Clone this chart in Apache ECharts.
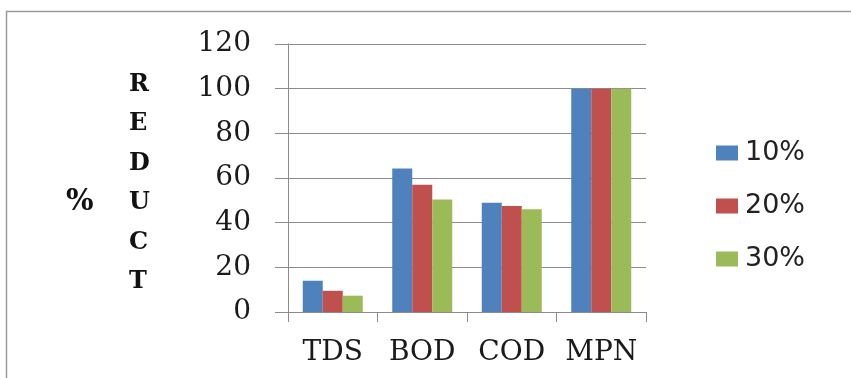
<!DOCTYPE html>
<html>
<head>
<meta charset="utf-8">
<script src="https://cdn.jsdelivr.net/npm/echarts@6/dist/echarts.min.js"></script>
<style>
  html, body { margin: 0; padding: 0; background: #fff; }
  #chart { width: 851px; height: 378px; }
</style>
</head>
<body>
<div id="chart"></div>
<script>
// Parameters measured and their percentage reduction at each dose
const categories = ['TDS', 'BOD', 'COD', 'MPN'];
const seriesNames = ['10%', '20%', '30%'];
const reduction10 = [14, 64.2, 48.9, 100];
const reduction20 = [9.5, 57, 47.5, 100];
const reduction30 = [7.3, 50.4, 46, 100];
const yTicks = [0, 20, 40, 60, 80, 100, 120];

const colors = ['#4F81BD', '#C0504D', '#9BBB59'];
const axisGray = '#8C8C8C';

const chart = echarts.init(document.getElementById('chart'), null, { renderer: 'canvas' });

const values = [reduction10, reduction20, reduction30];

chart.setOption({
  animation: false,
  backgroundColor: '#ffffff',
  color: colors,
  grid: { left: 288, right: 205, top: 44, bottom: 66, containLabel: false },
  legend: {
    orient: 'vertical',
    left: 711,
    top: 134,
    itemWidth: 22,
    itemHeight: 15,
    itemGap: 25,
    icon: 'rect',
    data: seriesNames,
    textStyle: { fontFamily: 'DejaVu Sans', fontSize: 27, color: '#222', lineHeight: 28, padding: [0, 0, 0, 2] }
  },
  xAxis: {
    type: 'category',
    data: categories,
    axisLine: { show: true, lineStyle: { color: axisGray, width: 1 } },
    axisTick: { show: true, interval: 0, length: 10, lineStyle: { color: axisGray } },
    axisLabel: { interval: 0, margin: 27, fontFamily: 'DejaVu Serif', fontSize: 28, color: '#1a1a1a' },
    splitLine: { show: false }
  },
  yAxis: {
    type: 'value',
    min: yTicks[0],
    max: yTicks[yTicks.length - 1],
    interval: yTicks[1] - yTicks[0],
    axisLine: { show: true, lineStyle: { color: axisGray, width: 1 } },
    axisTick: { show: true, length: 13, lineStyle: { color: axisGray } },
    axisLabel: { margin: 37, fontFamily: 'DejaVu Serif', fontSize: 28, color: '#1a1a1a' },
    splitLine: { show: true, lineStyle: { color: axisGray, width: 1 } }
  },
  series: seriesNames.map((name, i) => ({
    name: name,
    type: 'bar',
    data: values[i],
    barWidth: 20,
    barGap: '0%',
    itemStyle: { color: colors[i] }
  })),
  graphic: [
    {
      type: 'rect',
      silent: true,
      shape: { x: 6.5, y: 11.5, width: 900, height: 400 },
      style: { fill: 'none', stroke: '#9a9a9a', lineWidth: 1.5 }
    },
    {
      type: 'text',
      left: 129,
      top: 65,
      style: {
        text: 'R\nE\nD\nU\nC\nT',
        font: 'bold 24px "DejaVu Serif"',
        lineHeight: 39.5,
        fill: '#111',
        align: 'center'
      }
    },
    {
      type: 'text',
      left: 66,
      top: 188,
      style: {
        text: '%',
        font: 'bold 29px "DejaVu Serif"',
        fill: '#111'
      }
    }
  ]
});
</script>
</body>
</html>
